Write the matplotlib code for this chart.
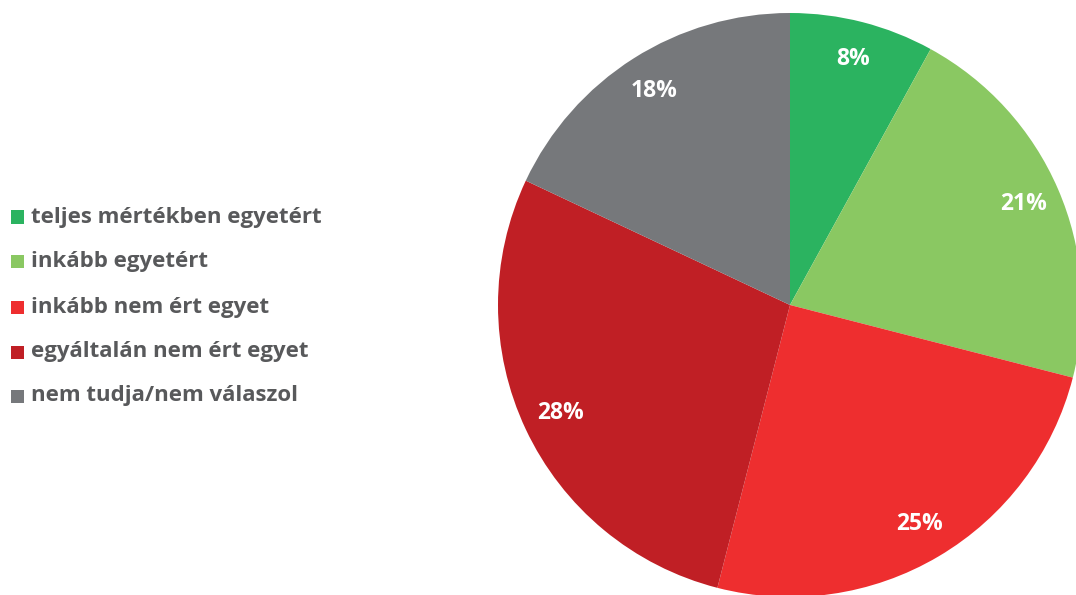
import matplotlib
matplotlib.use("Agg")
import matplotlib.pyplot as plt
from matplotlib.patches import Rectangle

categories = ["teljes mértékben egyetért", "inkább egyetért", "inkább nem ért egyet",
              "egyáltalán nem ért egyet", "nem tudja/nem válaszol"]
values = [8, 21, 25, 28, 18]
colors = ["#2bb360", "#8ac862", "#ee2e2f", "#c01f25", "#76787b"]

plt.rcParams['font.family'] = ['Open Sans', 'DejaVu Sans']

W, H = 1076, 595
fig = plt.figure(figsize=(W / 100, H / 100), dpi=100)

cx, cy, r = 790, 305, 292
ax = fig.add_axes([(cx - r) / W, (H - cy - r) / H, 2 * r / W, 2 * r / H])
wedges, texts, autotexts = ax.pie(
    values, colors=colors, startangle=90, counterclock=False,
    autopct=lambda p: f"{p:.0f}%", pctdistance=0.87, radius=1,
    wedgeprops=dict(linewidth=0),
    textprops=dict(color="white", fontsize=16.5, fontweight="bold"))
ax.set_xlim(-1, 1)
ax.set_ylim(-1, 1)
ax.set_aspect("equal")
ax.axis("off")
for w in wedges:
    w.set_clip_on(False)

# legend
ys = [217, 262, 307, 352, 396]
for y, lab, col in zip(ys, categories, colors):
    fig.patches.append(Rectangle((11 / W, (H - y - 6.5) / H), 13 / W, 13 / H,
                                 transform=fig.transFigure, facecolor=col,
                                 edgecolor="none"))
    fig.text(31 / W, (H - y) / H, lab, fontsize=16, fontweight="bold",
             color="#58595b", va="center", ha="left")

fig.savefig("out.png", dpi=100)
